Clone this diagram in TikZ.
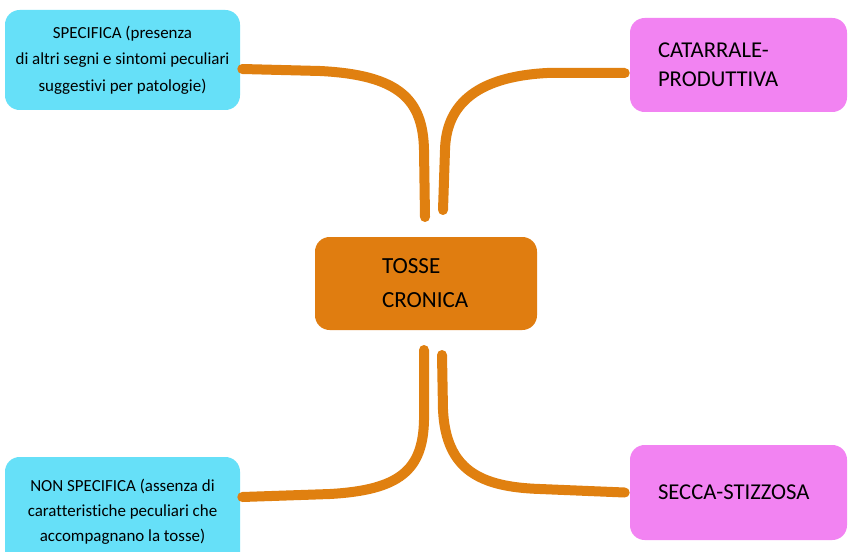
\documentclass[tikz,border=0pt]{standalone}
\usepackage{fontspec}
\setmainfont{Carlito}[Ligatures=NoCommon]
\usetikzlibrary{calc}
\definecolor{cyanbox}{HTML}{66E0F8}
\definecolor{pinkbox}{HTML}{F283F2}
\definecolor{orangebox}{HTML}{E07D10}
\definecolor{linkcol}{HTML}{E08010}
\begin{document}
\begin{tikzpicture}[x=0.75pt,y=-0.75pt,
  box/.style={rounded corners=11pt, inner sep=0pt, text=black},
  cyanstyle/.style={box, fill=cyanbox, minimum width=176.25pt, align=center, font=\fontsize{12.7}{20}\selectfont},
  pinkstyle/.style={box, fill=pinkbox, minimum width=162.75pt, inner xsep=21pt, text width=120.75pt, align=left, font=\fontsize{17}{22}\selectfont},
  mainstyle/.style={box, fill=orangebox, minimum width=166.5pt, minimum height=69.75pt, inner xsep=50.25pt, text width=66pt, align=left, font=\fontsize{17.3}{25.5}\selectfont},
  linkstyle/.style={draw=linkcol, line width=7.5pt, line cap=round}
]
\clip (0,0) rectangle (848,552);
\fill[white] (0,0) rectangle (848,552);

\node[cyanstyle, minimum height=75pt] (spec) at (122.5,60) {SPECIFICA (presenza\\di altri segni e sintomi peculiari\\suggestivi per patologie)};
\node[cyanstyle, minimum height=82.5pt, font=\fontsize{12.7}{18.75}\selectfont] (nonspec) at (122.5,512) {NON SPECIFICA (assenza di\\caratteristiche peculiari che\\accompagnano la tosse)};
\node[pinkstyle, minimum height=70.5pt] (cat) at (738.5,65) {CATARRALE-\\PRODUTTIVA};
\node[pinkstyle, minimum height=71.25pt] (secca) at (738.5,492.5) {SECCA-STIZZOSA};
\node[mainstyle] (main) at (426,283.5) {TOSSE\\CRONICA};

\coordinate (tlend) at (425,217);
\coordinate (trend) at (443,210);
\coordinate (blend) at (424,350);
\coordinate (brend) at (442,355);

\draw[linkstyle] ($(spec.east)+(2,9)$) -- (320,71) .. controls (400,75) and (423,100) .. (424,150) -- (tlend);
\draw[linkstyle] ($(cat.west)+(-5,8)$) -- (547,73) .. controls (472,77) and (446,108) .. (445,150) -- (trend);
\draw[linkstyle] (blend) -- (424,420) .. controls (423,470) and (400,490) .. (330,494) -- ($(nonspec.east)+(2,-15)$);
\draw[linkstyle] (brend) -- (443,410) .. controls (446,470) and (480,487) .. (540,489) -- ($(secca.west)+(-5,0)$);
\end{tikzpicture}
\end{document}
